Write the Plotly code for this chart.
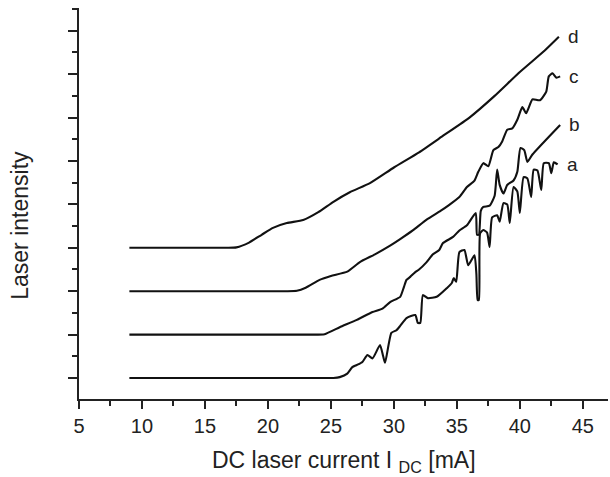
import plotly.graph_objects as go

# Laser intensity vs DC laser current, four curves offset vertically (a..d)
curve_names = ["a", "b", "c", "d"]

a_x = [9, 13, 17, 21, 24, 25.2, 25.7, 26.3, 26.7, 27.06, 27.5, 27.9, 28.3, 28.9, 29.15,
       29.3, 29.8, 30.2, 30.5, 31.0, 31.7, 31.9, 32.1, 32.3, 32.7, 33.4, 34.2, 34.6,
       34.75, 34.95, 35.2, 35.6, 35.9, 36.4, 36.55, 36.65, 36.75, 36.85, 37.1, 37.4,
       37.6, 37.8, 38.2, 38.4, 38.7, 39.0, 39.2, 39.5, 39.8, 40.0, 40.3, 40.6, 40.9,
       41.1, 41.4, 41.7, 41.9, 42.3, 42.5, 42.7, 43.0]
a_y = [0, 0, 0, 0, 0, 0, 0.02, 0.1, 0.25, 0.3, 0.37, 0.53, 0.45, 0.76, 0.5,
       0.35, 1.04, 1.1, 1.2, 1.38, 1.45, 1.27, 1.27, 1.91, 1.84, 1.87, 2.07, 2.19,
       2.3, 2.22, 2.9, 2.95, 2.6, 2.83, 2.4, 1.8, 1.8, 3.34, 3.41, 3.35,
       3.02, 3.7, 3.75, 3.6, 4.03, 4.0, 3.57, 4.4, 4.3, 3.8, 4.63, 4.6, 4.17,
       4.8, 4.78, 4.33, 4.95, 4.95, 4.72, 4.97, 4.92]

b_x = [9, 13, 17, 21, 23.5, 24.5, 25.7, 27.06, 28.3, 29.1, 29.7, 30.5, 30.8, 31.0, 31.3,
       31.7, 32.0, 32.6, 33.1, 33.6, 33.9, 34.7, 35.2, 35.8, 36.5, 36.6, 36.75, 36.9,
       37.1, 37.6, 38.0, 38.2, 38.4, 38.7, 39.0, 39.5, 39.8, 40.05, 40.35, 40.6, 41.0,
       43.2]
b_y = [1, 1, 1, 1, 1, 1.01, 1.17, 1.34, 1.52, 1.6, 1.75, 1.87, 2.1, 2.26, 2.33,
       2.44, 2.5, 2.67, 2.85, 2.95, 3.11, 3.25, 3.4, 3.52, 3.8, 3.3, 3.3, 3.85,
       3.94, 3.97, 4.2, 4.8, 4.45, 4.25, 4.45, 4.55, 4.75, 5.3, 5.25, 4.98, 5.15,
       5.83]

c_x = [9, 13, 17, 20, 21.5, 22.3, 23.0, 24.1, 25.0, 26.3, 27.3, 28.5, 29.7, 30.5, 31.5,
       32.6, 33.7, 34.4, 35.2, 35.8, 36.4, 36.7, 37.1, 37.5, 37.9, 38.3, 38.6, 39.0,
       39.4, 39.8, 40.2, 40.5, 40.8, 41.0, 41.6, 42.1, 42.3, 42.6, 42.9, 43.2]
c_y = [2, 2, 2, 2, 2, 2.01, 2.08, 2.26, 2.35, 2.45, 2.67, 2.85, 3.05, 3.2, 3.4,
       3.65, 3.85, 3.99, 4.17, 4.4, 4.55, 4.75, 4.95, 4.88, 5.25, 5.32, 5.45, 5.72,
       5.75, 5.95, 6.24, 6.1, 6.3, 6.42, 6.4, 6.6, 6.95, 7.02, 6.92, 6.95]

d_x = [9, 12, 15, 16.8, 17.5, 18.5, 19.5, 20.4, 21.5, 22.8, 24.0, 25.2, 26.5, 28.1, 30.0,
       32.0, 34.0, 36.0, 38.0, 40.0, 42.0, 43.1]
d_y = [3, 3, 3, 3, 3.01, 3.12, 3.3, 3.46, 3.57, 3.64, 3.82, 4.06, 4.28, 4.49, 4.85,
       5.2, 5.6, 6.0, 6.5, 7.05, 7.55, 7.86]

series = [(a_x, a_y), (b_x, b_y), (c_x, c_y), (d_x, d_y)]

x_ticks = [5, 10, 15, 20, 25, 30, 35, 40, 45]

ink = "#111111"
font_family = "Liberation Sans, Arial, sans-serif"

fig = go.Figure()
for name, (xs, ys) in zip(curve_names, series):
    fig.add_trace(go.Scatter(x=xs, y=ys, mode="lines", name=name,
                             line=dict(color=ink, width=2.1, shape="spline", smoothing=0.5),
                             showlegend=False))
    fig.add_annotation(x=xs[-1], y=ys[-1], text=name, showarrow=False,
                       xanchor="left", yanchor="middle", xshift=7,
                       font=dict(size=19, color="#222", family=font_family))

fig.update_layout(
    width=610, height=477,
    margin=dict(l=79, r=2, t=8, b=78),
    paper_bgcolor="white", plot_bgcolor="white",
    font=dict(family=font_family, color="#222"),
)

fig.update_xaxes(
    range=[5, 47], tickvals=x_ticks, ticktext=[str(v) for v in x_ticks],
    showgrid=False, zeroline=False,
    showline=True, linecolor="#222", linewidth=1.6,
    ticks="outside", ticklen=8, tickwidth=1.5, tickcolor="#222",
    tickfont=dict(size=20, color="#222"),
    minor=dict(dtick=2.5, tick0=5, ticks="outside", ticklen=5, tickwidth=1.5, tickcolor="#222"),
)
fig.update_yaxes(
    range=[-0.484, 8.525], dtick=1, tick0=0,
    showgrid=False, zeroline=False, showticklabels=False,
    showline=True, linecolor="#222", linewidth=1.6,
    ticks="outside", ticklen=9, tickwidth=1.5, tickcolor="#222",
    minor=dict(dtick=0.5, tick0=0, ticks="outside", ticklen=5, tickwidth=1.5, tickcolor="#222"),
)

# Axis titles
fig.add_annotation(xref="paper", yref="paper", x=0.5, y=-0.16,
                   text="DC laser current I <sub>DC</sub> [mA]", showarrow=False,
                   xanchor="center", yanchor="middle",
                   font=dict(size=23, color="#222", family=font_family))
fig.add_annotation(xref="paper", yref="paper", x=-0.112, y=0.445,
                   text="Laser intensity", showarrow=False, textangle=-90,
                   xanchor="center", yanchor="middle",
                   font=dict(size=23, color="#222", family=font_family))

fig.write_html("out.html")
